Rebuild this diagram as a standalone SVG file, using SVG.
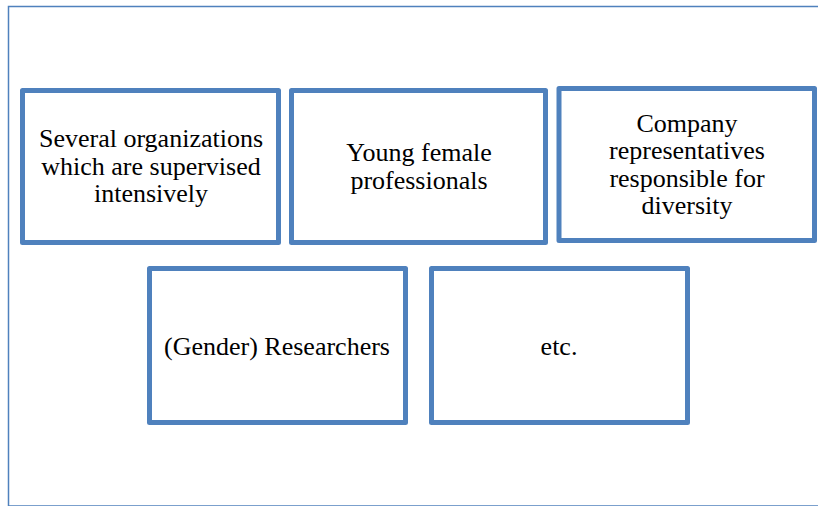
<svg xmlns="http://www.w3.org/2000/svg" width="818" height="506" viewBox="0 0 818 506">
  <!-- outer frame; its bottom edge sits on the lower border -->
  <rect x="8.5" y="6.5" width="812" height="499.5" fill="#ffffff" stroke="#4f81bd" stroke-width="1.5"/>

  <g id="nodes">
    <g id="organizations">
      <rect x="22.5" y="90.5" width="256" height="152" fill="#ffffff" stroke="#4f81bd" stroke-width="5" stroke-linejoin="round"/>
      <text x="151" y="147" font-family="Liberation Serif" font-size="26" fill="#000000" text-anchor="middle">Several organizations</text>
      <text x="151" y="175" font-family="Liberation Serif" font-size="26" fill="#000000" text-anchor="middle">which are supervised</text>
      <text x="151" y="202" font-family="Liberation Serif" font-size="26" fill="#000000" text-anchor="middle">intensively</text>
    </g>
    <g id="young-professionals">
      <rect x="291.5" y="90.5" width="254" height="152" fill="#ffffff" stroke="#4f81bd" stroke-width="5" stroke-linejoin="round"/>
      <text x="419" y="161" font-family="Liberation Serif" font-size="26" fill="#000000" text-anchor="middle">Young female</text>
      <text x="419" y="189" font-family="Liberation Serif" font-size="26" fill="#000000" text-anchor="middle">professionals</text>
    </g>
    <g id="company-representatives">
      <rect x="559" y="88.5" width="255.5" height="152" fill="#ffffff" stroke="#4f81bd" stroke-width="5" stroke-linejoin="round"/>
      <text x="687" y="132" font-family="Liberation Serif" font-size="26" fill="#000000" text-anchor="middle">Company</text>
      <text x="687" y="159" font-family="Liberation Serif" font-size="26" fill="#000000" text-anchor="middle">representatives</text>
      <text x="687" y="187" font-family="Liberation Serif" font-size="26" fill="#000000" text-anchor="middle">responsible for</text>
      <text x="687" y="214" font-family="Liberation Serif" font-size="26" fill="#000000" text-anchor="middle">diversity</text>
    </g>
    <g id="researchers">
      <rect x="149.5" y="268.5" width="256" height="154" fill="#ffffff" stroke="#4f81bd" stroke-width="5" stroke-linejoin="round"/>
      <text x="277" y="355" font-family="Liberation Serif" font-size="26" fill="#000000" text-anchor="middle">(Gender) Researchers</text>
    </g>
    <g id="etc">
      <rect x="431.5" y="268.5" width="256" height="154" fill="#ffffff" stroke="#4f81bd" stroke-width="5" stroke-linejoin="round"/>
      <text x="559" y="355" font-family="Liberation Serif" font-size="26" fill="#000000" text-anchor="middle">etc.</text>
    </g>
  </g>

  <g id="connectors"></g>
</svg>
